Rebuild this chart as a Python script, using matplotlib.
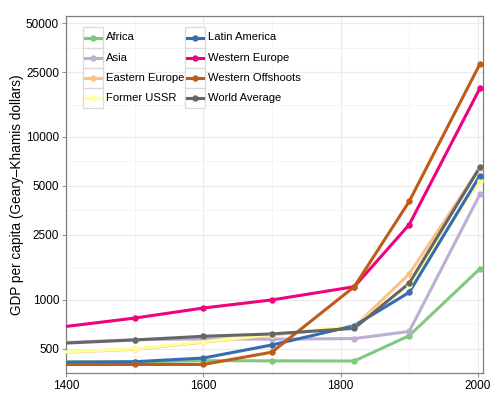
import matplotlib
matplotlib.use("Agg")
import matplotlib.pyplot as plt
from matplotlib.patches import Rectangle
from matplotlib.lines import Line2D
from matplotlib.ticker import FixedLocator, NullFormatter

plt.rcParams["font.family"] = ["Liberation Sans", "DejaVu Sans"]

years = [1000, 1500, 1600, 1700, 1820, 1900, 2003]

africa = [425, 414, 422, 421, 420, 601, 1549]
asia = [465, 568, 574, 572, 577, 638, 4434]
eastern_europe = [400, 496, 548, 606, 683, 1438, 6476]
former_ussr = [400, 499, 552, 610, 688, 1237, 5397]
latin_america = [400, 416, 438, 527, 692, 1109, 5786]
western_europe = [427, 771, 889, 997, 1202, 2891, 19912]
western_offshoots = [400, 400, 400, 476, 1202, 4015, 28039]
world_average = [453, 566, 596, 616, 667, 1262, 6516]

regions = ["Africa", "Asia", "Eastern Europe", "Former USSR",
           "Latin America", "Western Europe", "Western Offshoots", "World Average"]
series = [africa, asia, eastern_europe, former_ussr,
          latin_america, western_europe, western_offshoots, world_average]
colors = ["#7FC97F", "#BEAED4", "#FDC086", "#FFFF99",
          "#386CB0", "#F0027F", "#BF5B17", "#666666"]

y_ticks = [500, 1000, 2500, 5000, 10000, 25000, 50000]
x_ticks = [1400, 1600, 1800, 2000]

W, H = 500, 417
fig = plt.figure(figsize=(W / 100, H / 100), dpi=100)
ax = fig.add_axes([66 / W, 1 - 373.3 / H, (483.3 - 66) / W, (373.3 - 16) / H])

for vals, c in zip(series, colors):
    ax.plot(years, vals, color=c, lw=2.2, solid_capstyle="butt", zorder=3)
for vals, c in zip(series, colors):
    ax.plot(years, vals, "o", color=c, ms=4.6, mec="none", zorder=4)

ax.set_yscale("log")
ax.set_xlim(1400, 2008)
ax.set_ylim(353, 55400)

ax.yaxis.set_major_locator(FixedLocator(y_ticks))
ax.set_yticklabels([str(v) for v in y_ticks])
ax.yaxis.set_minor_locator(FixedLocator([354, 707, 1581, 3536, 7071, 15811, 35355]))
ax.yaxis.set_minor_formatter(NullFormatter())
ax.set_xticks(x_ticks)
ax.set_xticklabels([str(v) for v in x_ticks])
ax.xaxis.set_minor_locator(FixedLocator([1500, 1700, 1900]))

ax.grid(True, which="major", color="#EBEBEB", lw=0.8, zorder=0)
ax.grid(True, which="minor", color="#F4F4F4", lw=0.6, zorder=0)
ax.set_axisbelow(True)
ax.tick_params(which="major", length=3, width=0.6, color="#7F7F7F",
               labelsize=8.5, labelcolor="black", pad=2)
ax.tick_params(which="minor", length=0)
for s in ax.spines.values():
    s.set_color("#7F7F7F")
    s.set_linewidth(0.9)

ax.set_ylabel("GDP per capita (Geary\u2013Khamis dollars)", fontsize=9.8, labelpad=1.5)


def px(x, y):
    return x / W, 1 - y / H


# legend: boxed keys in two columns
cols = [(83, 105.5, regions[:4], colors[:4]), (184.5, 207.5, regions[4:], colors[4:])]
for kx, tx, names, cs in cols:
    for i, (name, c) in enumerate(zip(names, cs)):
        top = 27.5 + i * 20.1
        x0, y0 = px(kx, top + 20.1)
        fig.patches.append(Rectangle((x0, y0), 20 / W, 20.1 / H, transform=fig.transFigure,
                                     fill=True, fc="white", ec="#D9D9D9", lw=0.9, zorder=5))
        cy = top + 10
        lx0, ly = px(kx + 2, cy)
        lx1, _ = px(kx + 18, cy)
        fig.lines.append(Line2D([lx0, lx1], [ly, ly], transform=fig.transFigure,
                                color=c, lw=2.2, zorder=6))
        mx, _ = px(kx + 10, cy)
        fig.lines.append(Line2D([mx], [ly], transform=fig.transFigure, marker="o",
                                color=c, ms=4.6, mec="none", zorder=7))
        tx0, ty = px(tx, cy)
        fig.text(tx0, ty, name, fontsize=8.1, va="center", ha="left", zorder=8)

fig.savefig("out.png", dpi=100)
